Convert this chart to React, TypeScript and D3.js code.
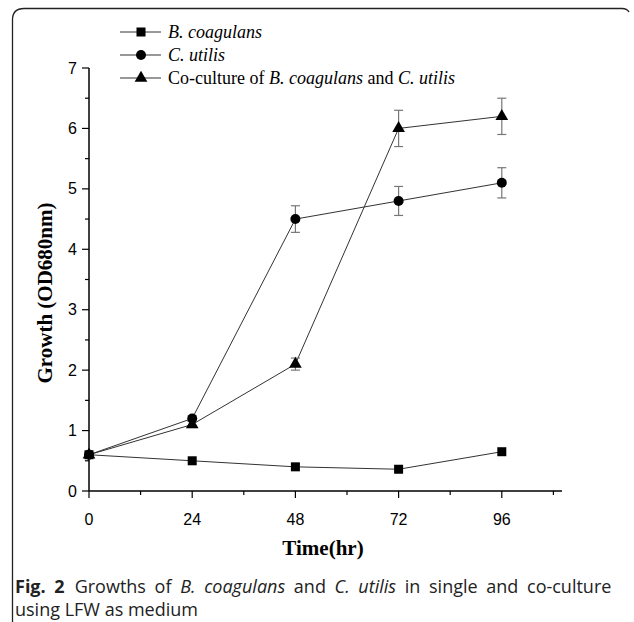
import React from "react";
import * as d3 from "d3";

const times = [0, 24, 48, 72, 96];
const bCoagulans = [0.6, 0.5, 0.4, 0.36, 0.65];
const cUtilis = [0.6, 1.2, 4.5, 4.8, 5.1];
const cUtilisErr = [0, 0.05, 0.22, 0.24, 0.25];
const coCulture = [0.6, 1.1, 2.1, 6.0, 6.2];
const coCultureErr = [0, 0.05, 0.1, 0.3, 0.3];
const xTicks = [0, 24, 48, 72, 96];
const xMinor = [12, 36, 60, 84, 108];
const yTicks = [0, 1, 2, 3, 4, 5, 6, 7];
const yMinor = [0.5, 1.5, 2.5, 3.5, 4.5, 5.5, 6.5];

const W = 634;
const H = 622;

export default function App() {
  const x = d3.scaleLinear().domain([0, 110]).range([89, 562]);
  const y = d3.scaleLinear().domain([0, 7]).range([491, 68]);
  const line = d3
    .line<[number, number]>()
    .x((d) => x(d[0]))
    .y((d) => y(d[1]));

  const series = [
    { name: "b", vals: bCoagulans, err: null as number[] | null, shape: "square" },
    { name: "c", vals: cUtilis, err: cUtilisErr, shape: "circle" },
    { name: "co", vals: coCulture, err: coCultureErr, shape: "triangle" },
  ];

  const marker = (shape: string, cx: number, cy: number, key: string) => {
    if (shape === "square")
      return <rect key={key} x={cx - 4.5} y={cy - 4.5} width={9} height={9} fill="#000" />;
    if (shape === "circle") return <circle key={key} cx={cx} cy={cy} r={5} fill="#000" />;
    const sym = d3.symbol().type(d3.symbolTriangle).size(70)();
    return <path key={key} d={sym || ""} transform={`translate(${cx},${cy})`} fill="#000" />;
  };

  const serif = "'Liberation Serif', 'Times New Roman', serif";
  const sans = "'Liberation Sans', Arial, sans-serif";
  const capFont = "'Open Sans', 'Noto Sans', sans-serif";

  return (
    <svg
      width={W}
      height={H}
      style={{ position: "absolute", left: 0, top: 0, background: "#fff" }}
    >
      {/* frame */}
      <path
        d="M12.5,622 L12.5,20 Q12.5,8.5 24,8.5 L622,8.5 Q627,8.5 629,12"
        fill="none"
        stroke="#222"
        strokeWidth={1.3}
      />

      {/* axes */}
      <line x1={x(0)} x2={x(0)} y1={y(0)} y2={y(7)} stroke="#000" strokeWidth={1.5} />
      <line x1={x(0)} x2={x(110)} y1={y(0)} y2={y(0)} stroke="#000" strokeWidth={1.5} />
      {yTicks.map((t) => (
        <g key={"yt" + t}>
          <line x1={x(0) - 7} x2={x(0)} y1={y(t)} y2={y(t)} stroke="#000" strokeWidth={1.2} />
          <text x={x(0) - 12} y={y(t) + 5.5} textAnchor="end" fontFamily={sans} fontSize={16}>
            {t}
          </text>
        </g>
      ))}
      {yMinor.map((t) => (
        <line key={"ym" + t} x1={x(0) - 4} x2={x(0)} y1={y(t)} y2={y(t)} stroke="#000" strokeWidth={1.2} />
      ))}
      {xTicks.map((t) => (
        <g key={"xt" + t}>
          <line x1={x(t)} x2={x(t)} y1={y(0)} y2={y(0) + 7} stroke="#000" strokeWidth={1.2} />
          <text x={x(t)} y={y(0) + 34} textAnchor="middle" fontFamily={sans} fontSize={16}>
            {t}
          </text>
        </g>
      ))}
      {xMinor.map((t) => (
        <line key={"xm" + t} x1={x(t)} x2={x(t)} y1={y(0)} y2={y(0) + 4} stroke="#000" strokeWidth={1.2} />
      ))}

      {/* axis titles */}
      <text
        x={323}
        y={555}
        textAnchor="middle"
        fontFamily={serif}
        fontWeight="bold"
        fontSize={21}
      >
        Time(hr)
      </text>
      <text
        transform={`translate(52,293) rotate(-90)`}
        textAnchor="middle"
        fontFamily={serif}
        fontWeight="bold"
        fontSize={21}
      >
        Growth (OD680nm)
      </text>

      {/* series lines */}
      {series.map((s) => (
        <path
          key={"l" + s.name}
          d={line(times.map((t, i) => [t, s.vals[i]] as [number, number])) || ""}
          fill="none"
          stroke="#333"
          strokeWidth={1}
        />
      ))}

      {/* error bars */}
      {series.map((s) =>
        s.err
          ? times.map((t, i) =>
              s.err![i] > 0 ? (
                <g key={"e" + s.name + i} stroke="#777" strokeWidth={1.2}>
                  <line x1={x(t)} x2={x(t)} y1={y(s.vals[i] - s.err![i])} y2={y(s.vals[i] + s.err![i])} />
                  <line x1={x(t) - 4.5} x2={x(t) + 4.5} y1={y(s.vals[i] + s.err![i])} y2={y(s.vals[i] + s.err![i])} />
                  <line x1={x(t) - 4.5} x2={x(t) + 4.5} y1={y(s.vals[i] - s.err![i])} y2={y(s.vals[i] - s.err![i])} />
                </g>
              ) : null
            )
          : null
      )}

      {/* markers */}
      {series.map((s) => times.map((t, i) => marker(s.shape, x(t), y(s.vals[i]), "m" + s.name + i)))}

      {/* legend */}
      {series.map((s, k) => {
        const ly = [32, 55, 78][k];
        return (
          <g key={"lg" + s.name}>
            <line x1={120} x2={161} y1={ly} y2={ly} stroke="#333" strokeWidth={1} />
            {marker(s.shape, 141, ly, "lm" + s.name)}
          </g>
        );
      })}
      <text x={168} y={38} fontFamily={serif} fontSize={18} fontStyle="italic">
        B. coagulans
      </text>
      <text x={168} y={61} fontFamily={serif} fontSize={18} fontStyle="italic">
        C. utilis
      </text>
      <text x={168} y={84} fontFamily={serif} fontSize={18}>
        Co-culture of <tspan fontStyle="italic">B. coagulans</tspan> and{" "}
        <tspan fontStyle="italic">C. utilis</tspan>
      </text>

      {/* caption */}
      <text x={15} y={593} fontFamily={capFont} fontSize={18} fill="#222" wordSpacing={4}>
        <tspan fontWeight="bold">Fig. 2</tspan>
        <tspan dx={10}>Growths of </tspan>
        <tspan fontStyle="italic">B. coagulans</tspan>
        {" and "}
        <tspan fontStyle="italic">C. utilis</tspan>
        {" in single and co-culture"}
      </text>
      <text x={15} y={616} fontFamily={capFont} fontSize={18} fill="#222">
        using LFW as medium
      </text>
    </svg>
  );
}
